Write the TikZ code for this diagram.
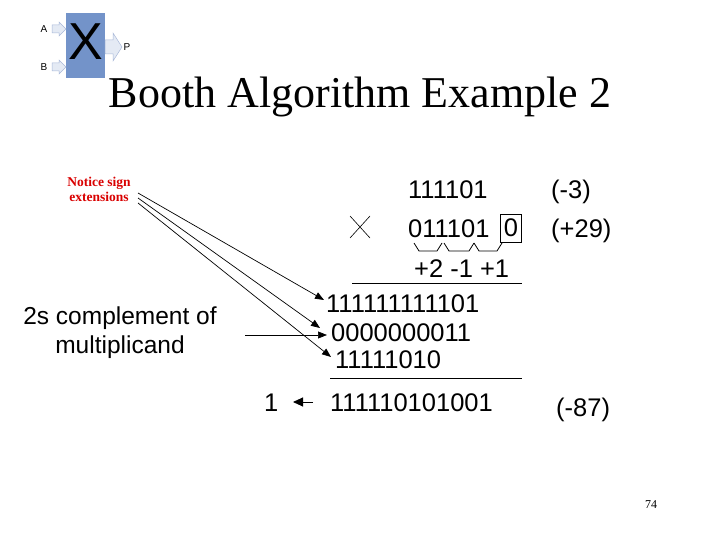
\documentclass[tikz,border=0pt]{standalone}
\usepackage{fontspec}
\setmainfont{Liberation Serif}
\newfontfamily\arial{Liberation Sans}
\usetikzlibrary{arrows.meta}
\definecolor{logob}{HTML}{7393C9}
\definecolor{arrf}{HTML}{E4EAF4}
\definecolor{arrd}{HTML}{A8B8D8}
\tikzset{num/.style={font=\arial\fontsize{25.5}{28}\selectfont, inner sep=0pt, anchor=base west},
 ptr/.style={-{Triangle[length=9pt,width=7pt]}, line width=0.7pt},
 fat/.style={fill=arrf, draw=arrd, line width=0.5pt}}
\begin{document}
\begin{tikzpicture}[x=1pt,y=-1pt]
\useasboundingbox (0,0) rectangle (720,540);
% logo
\node[fill=logob, minimum width=39pt, minimum height=65pt, inner sep=0pt] (box) at (85.5,45.5) {};
\node[font=\arial\fontsize{52}{52}\selectfont, inner sep=0pt] (bx) at (86,42) {X};
\draw[fat] (52,25)--(59,25)--(59,22)--(66,29)--(59,36)--(59,33)--(52,33)--cycle;
\draw[fat] (52,63)--(59,63)--(59,60)--(66,67)--(59,74)--(59,71)--(52,71)--cycle;
\draw[fat] (105,40)--(113,40)--(113,33)--(122,47)--(113,61)--(113,54)--(105,54)--cycle;
\node[font=\arial\fontsize{10}{10}\selectfont] (la) at (44,29) {A};
\node[font=\arial\fontsize{10}{10}\selectfont] (lb) at (44,67) {B};
\node[font=\arial\fontsize{10}{10}\selectfont] (lp) at (127,47) {P};
% title
\node[font=\fontsize{44}{46}\selectfont] (title) at (360,97) {Booth Algorithm Example 2};
% notice
\node[font=\bfseries\fontsize{13.5}{15}\selectfont, text=red!85!black, align=center] (note) at (99,189) {Notice sign\\extensions};
% numbers
\node[num] (m) at (408,199) {111101};
\node[num] (m3) at (551,199) {(-3)};
\draw[line width=0.6pt] (350,216)--(370,238) (350,238)--(370,216);
\node[num] (q) at (408,237) {011101};
\node[draw, line width=0.8pt, minimum width=21pt, minimum height=28pt, inner sep=0pt] (z) at (511,228) {};
\node[num, anchor=center] (zt) at (511,228) {0};
\node[num] (p29) at (551,237) {(+29)};
\draw[line width=0.8pt] (414,243)--(419,251)--(437,251)--(442,243);
\draw[line width=0.8pt] (444,243)--(449,251)--(469,251)--(474,243);
\draw[line width=0.8pt] (474,243)--(479,251)--(497,251)--(502,243);
\node[num] (rec) at (414,277) {+2 -1 +1};
\draw[line width=0.8pt] (352,283)--(522,283);
\node[num] (r1) at (326,312) {111111111101};
\node[num] (r2) at (331,341) {0000000011};
\node[num] (r3) at (335,368) {11111010};
\draw[line width=0.8pt] (330,378)--(522,378);
\node[num] (one) at (264,411) {1};
\node[num] (res) at (330,411) {111110101001};
\node[num] (m87) at (556,416) {(-87)};
\node[font=\arial\fontsize{24.5}{29}\selectfont, align=center] (comp) at (120,333) {2s complement of\\multiplicand};
\coordinate (n1) at (138,193); \coordinate (n2) at (138,198); \coordinate (n3) at (138,203);
\draw[ptr] (n1) -- (324,300);
\draw[ptr] (n2) -- (320,328);
\draw[ptr] (n3) -- (331,357);
\coordinate (c1) at (245,335);
\draw[ptr] (c1) -- (327,335);
\coordinate (a1) at (313,402);
\draw[line width=0.9pt, -{Triangle[length=10pt,width=9pt]}] (a1) -- (293,402);
\node[font=\fontsize{12}{12}\selectfont] (pg) at (651,505) {74};
\end{tikzpicture}
\end{document}
